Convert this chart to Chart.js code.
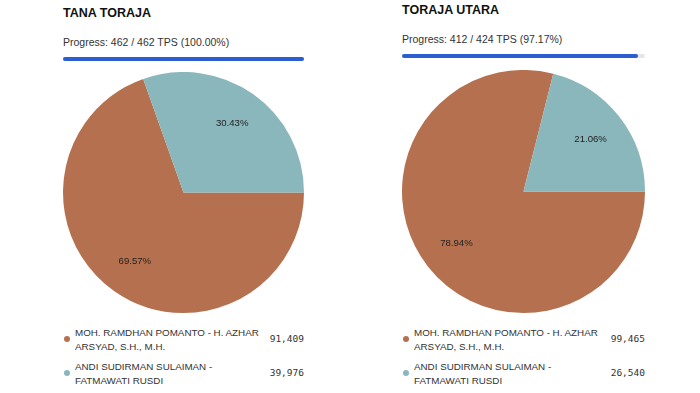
<!DOCTYPE html>
<html>
<head>
<meta charset="utf-8">
<script src="https://cdn.jsdelivr.net/npm/chart.js@4"></script>
<style>
    body { margin: 0; width: 700px; height: 393px; background: #fff; position: relative; overflow: hidden;
           font-family: "Liberation Sans", Arial, sans-serif; color: #222; }
    .title { position: absolute; font-weight: bold; font-size: 12.5px; line-height: 15px; color: #111; }
    .progress-text { position: absolute; font-size: 10.5px; line-height: 13px; color: #333; }
    .bar { position: absolute; height: 4px; background: #e4e6ea; border-radius: 3px; }
    .bar-fill { height: 100%; background: #2b5dd3; border-radius: 3px; }
    .pie-box { position: absolute; }
    .legend-item { position: absolute; }
    .legend-dot { position: absolute; width: 6px; height: 6px; border-radius: 50%; }
    .legend-name { position: absolute; font-size: 9.8px; line-height: 14px; color: #333; width: 192px; }
    .legend-val { position: absolute; font-family: "DejaVu Sans Mono", monospace; font-size: 9.5px; line-height: 12px; color: #333; text-align: right; }
</style>
</head>
<body>
<div id="root"></div>
<script>
/* Data */
const regions = ['TANA TORAJA', 'TORAJA UTARA'];
const tpsDone = [462, 412];
const tpsTotal = [462, 424];
const candidates = ['MOH. RAMDHAN POMANTO - H. AZHAR ARSYAD, S.H., M.H.', 'ANDI SUDIRMAN SULAIMAN - FATMAWATI RUSDI'];
const votesTanaToraja = [91409, 39976];
const votesTorajaUtara = [99465, 26540];
const sliceColors = ['#b5714f', '#8ab7bc'];

// panel layout (left edge, width, vertical nudge)
const panels = [
    { votes: votesTanaToraja, x: 63, w: 241, dy: 0, pie: { left: 63, top: 72, size: 241 } },
    { votes: votesTorajaUtara, x: 402, w: 243, dy: -3, pie: { left: 402, top: 70, size: 243 } }
];

/* Percent labels inside slices */
const pctLabels = {
    id: 'pctLabels',
    afterDatasetsDraw(chart) {
        const ctx = chart.ctx;
        const data = chart.data.datasets[0].data;
        const total = data.reduce((a, b) => a + b, 0);
        chart.getDatasetMeta(0).data.forEach((arc, i) => {
            const p = arc.getProps(['x', 'y', 'startAngle', 'endAngle', 'outerRadius'], true);
            const mid = (p.startAngle + p.endAngle) / 2;
            const r = p.outerRadius * 0.7;
            ctx.save();
            ctx.font = '9.6px "Liberation Sans", Arial';
            ctx.fillStyle = '#222';
            ctx.textAlign = 'center';
            ctx.textBaseline = 'middle';
            ctx.fillText((data[i] / total * 100).toFixed(2) + '%', p.x + Math.cos(mid) * r, p.y + Math.sin(mid) * r);
            ctx.restore();
        });
    }
};

const root = document.getElementById('root');

function el(cls, styles, text) {
    const d = document.createElement('div');
    d.className = cls;
    Object.assign(d.style, styles);
    if (text !== undefined) d.textContent = text;
    root.appendChild(d);
    return d;
}

panels.forEach((panel, k) => {
    const x = panel.x;
    el('title', { left: x + 'px', top: (6 + panel.dy) + 'px' }, regions[k]);

    const pct = (tpsDone[k] / tpsTotal[k] * 100).toFixed(2);
    el('progress-text', { left: x + 'px', top: (36 + panel.dy) + 'px' },
        'Progress: ' + tpsDone[k] + ' / ' + tpsTotal[k] + ' TPS (' + pct + '%)');

    const bar = el('bar', { left: x + 'px', top: (56 + panel.dy + 0.5) + 'px', width: panel.w + 'px' });
    const fill = document.createElement('div');
    fill.className = 'bar-fill';
    fill.style.width = pct + '%';
    bar.appendChild(fill);

    // pie
    const box = el('pie-box', {
        left: panel.pie.left + 'px', top: panel.pie.top + 'px',
        width: panel.pie.size + 'px', height: panel.pie.size + 'px'
    });
    const canvas = document.createElement('canvas');
    box.appendChild(canvas);

    new Chart(canvas.getContext('2d'), {
        type: 'pie',
        data: {
            labels: candidates,
            datasets: [{
                data: panel.votes,
                backgroundColor: sliceColors,
                borderWidth: 0
            }]
        },
        options: {
            responsive: true,
            maintainAspectRatio: false,
            animation: false,
            rotation: 90,
            layout: { padding: 0 },
            plugins: {
                legend: { display: false },
                tooltip: { enabled: false }
            }
        },
        plugins: [pctLabels]
    });

    // legend
    candidates.forEach((name, i) => {
        const top = 326 + i * 34;
        el('legend-dot', { left: (x + 1) + 'px', top: (top + 10) + 'px', background: sliceColors[i] });
        el('legend-name', { left: (x + 12) + 'px', top: top + 'px' }, name);
        el('legend-val', { left: (x + panel.w - 60) + 'px', top: (top + 7) + 'px', width: '60px' },
            panel.votes[i].toLocaleString('en-US'));
    });
});
</script>
</body>
</html>
